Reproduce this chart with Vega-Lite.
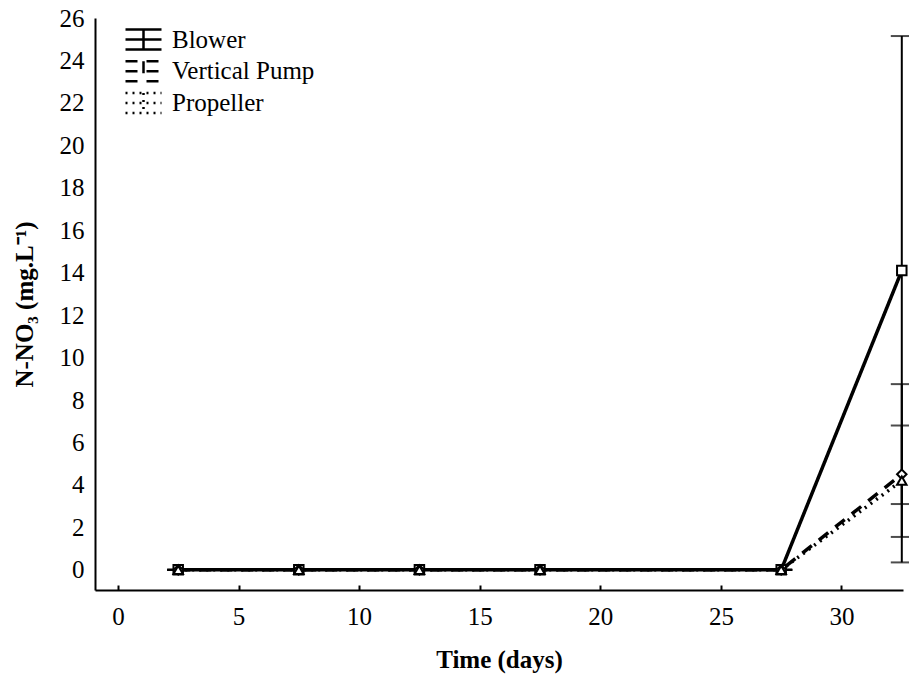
{
  "$schema": "https://vega.github.io/schema/vega-lite/v6.json",
  "width": 808,
  "height": 572,
  "autosize": "none",
  "padding": {"left": 95, "top": 18, "right": 6, "bottom": 87},
  "background": "white",
  "config": {
    "view": {"stroke": null},
    "font": "Liberation Serif",
    "axis": {"grid": false, "domainColor": "black", "domainWidth": 2, "labelColor": "black", "titleColor": "black", "labelFont": "Liberation Serif", "titleFont": "Liberation Serif", "labelFontSize": 25, "titleFontSize": 25, "titleFontWeight": "bold"},
    "legend": {"labelFont": "Liberation Serif", "labelFontSize": 25, "labelColor": "black"}
  },
  "data": {
    "values": [
      {"series": "Blower", "time": 2.5, "value": 0, "lo": 0, "hi": 0},
      {"series": "Blower", "time": 7.5, "value": 0, "lo": 0, "hi": 0},
      {"series": "Blower", "time": 12.5, "value": 0, "lo": 0, "hi": 0},
      {"series": "Blower", "time": 17.5, "value": 0, "lo": 0, "hi": 0},
      {"series": "Blower", "time": 27.5, "value": 0, "lo": 0, "hi": 0},
      {"series": "Blower", "time": 32.5, "value": 14.1, "lo": 3.1, "hi": 25.15},
      {"series": "Vertical Pump", "time": 2.5, "value": 0, "lo": 0, "hi": 0},
      {"series": "Vertical Pump", "time": 7.5, "value": 0, "lo": 0, "hi": 0},
      {"series": "Vertical Pump", "time": 12.5, "value": 0, "lo": 0, "hi": 0},
      {"series": "Vertical Pump", "time": 17.5, "value": 0, "lo": 0, "hi": 0},
      {"series": "Vertical Pump", "time": 27.5, "value": 0, "lo": 0, "hi": 0},
      {"series": "Vertical Pump", "time": 32.5, "value": 4.5, "lo": 0.35, "hi": 8.75},
      {"series": "Propeller", "time": 2.5, "value": 0, "lo": 0, "hi": 0},
      {"series": "Propeller", "time": 7.5, "value": 0, "lo": 0, "hi": 0},
      {"series": "Propeller", "time": 12.5, "value": 0, "lo": 0, "hi": 0},
      {"series": "Propeller", "time": 17.5, "value": 0, "lo": 0, "hi": 0},
      {"series": "Propeller", "time": 27.5, "value": 0, "lo": 0, "hi": 0},
      {"series": "Propeller", "time": 32.5, "value": 4.2, "lo": 1.55, "hi": 6.8}
    ]
  },
  "encoding": {
    "x": {"field": "time", "type": "quantitative", "scale": {"domain": [-0.95, 32.55], "nice": false, "zero": false},
      "axis": {"title": "Time (days)", "values": [0, 5, 10, 15, 20, 25, 30], "tickSize": -5, "tickColor": "black", "tickWidth": 2, "labelPadding": 19, "titlePadding": 18}}
  },
  "layer": [
    {
      "mark": {"type": "rule", "color": "black", "strokeWidth": 2},
      "encoding": {
        "y": {"field": "lo", "type": "quantitative", "scale": {"domain": [-0.95, 26], "nice": false, "zero": false},
          "axis": {"title": "N-NO₃ (mg.L⁻¹)", "values": [0, 2, 4, 6, 8, 10, 12, 14, 16, 18, 20, 22, 24, 26], "ticks": false, "labelPadding": 11, "titlePadding": 22}},
        "y2": {"field": "hi"}
      }
    },
    {
      "mark": {"type": "tick", "orient": "horizontal", "color": "black", "size": 22, "thickness": 2, "clip": false},
      "encoding": {"y": {"field": "lo", "type": "quantitative"}}
    },
    {
      "mark": {"type": "tick", "orient": "horizontal", "color": "black", "size": 22, "thickness": 2, "clip": false},
      "encoding": {"y": {"field": "hi", "type": "quantitative"}}
    },
    {
      "mark": {"type": "line", "color": "black", "strokeWidth": 3.5},
      "encoding": {
        "y": {"field": "value", "type": "quantitative"},
        "strokeDash": {"field": "series", "type": "nominal",
          "scale": {"domain": ["Blower", "Vertical Pump", "Propeller"], "range": [[1, 0], [12, 9], [2, 5]]},
          "legend": {"title": null, "orient": "none", "legendX": 36, "legendY": 9, "symbolType": "M-1.8,-1H1.8M-1.8,1H1.8M0,-1V1M-1.8,0H1.8", "symbolSize": 400, "symbolStrokeColor": "black", "symbolFillColor": "transparent", "symbolStrokeWidth": 2.5, "rowPadding": 0.8, "labelOffset": 16}
        }
      }
    },
    {
      "mark": {"type": "point", "filled": true, "fill": "white", "stroke": "black", "strokeWidth": 2, "size": 90, "opacity": 1},
      "encoding": {
        "y": {"field": "value", "type": "quantitative"},
        "shape": {"condition": [{"test": "datum.series === 'Blower'", "value": "square"}, {"test": "datum.series === 'Vertical Pump'", "value": "diamond"}], "value": "triangle-up"}
      }
    }
  ]
}
